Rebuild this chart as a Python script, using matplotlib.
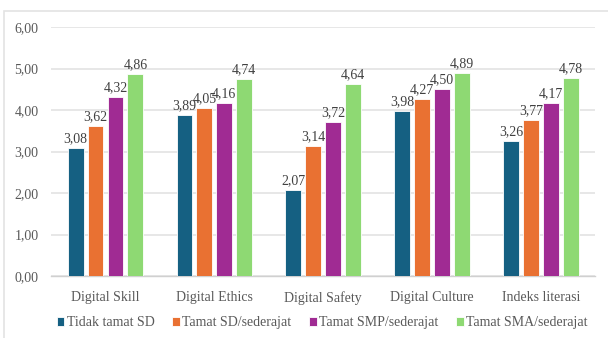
import numpy as np
import matplotlib
matplotlib.use("Agg")
import matplotlib.pyplot as plt
from matplotlib.patches import Rectangle

categories = ["Digital Skill", "Digital Ethics", "Digital Safety", "Digital Culture", "Indeks literasi"]
series_names = ["Tidak tamat SD", "Tamat SD/sederajat", "Tamat SMP/sederajat", "Tamat SMA/sederajat"]
tidak_tamat_sd = [3.08, 3.89, 2.07, 3.98, 3.26]
tamat_sd = [3.62, 4.05, 3.14, 4.27, 3.77]
tamat_smp = [4.32, 4.16, 3.72, 4.50, 4.17]
tamat_sma = [4.86, 4.74, 4.64, 4.89, 4.78]
yticks = [0, 1, 2, 3, 4, 5, 6]

colors = ["#156082", "#E97132", "#A02B93", "#8ED973"]

plt.rcParams["font.family"] = ["Liberation Serif", "DejaVu Serif"]
FONTSIZE = 10


def main():
    fig = plt.figure(figsize=(6.08, 3.38), dpi=100)
    ax = fig.add_axes([0.084, 0.183, 0.895, 0.737])

    # light frame around the chart like the Excel chart area
    fig.patches.append(Rectangle((4 / 608, -0.1), 1.1, 1.1 - 11 / 338,
                                 transform=fig.transFigure, fill=False,
                                 edgecolor="#e3e3e3", linewidth=1.2))

    x = np.arange(len(categories))
    width = 0.145
    step = 0.183
    data = [tidak_tamat_sd, tamat_sd, tamat_smp, tamat_sma]
    for i, (vals, name, c) in enumerate(zip(data, series_names, colors)):
        pos = x + (i - 1.5) * step
        bars = ax.bar(pos, vals, width, color=c, label=name,
                      edgecolor="white", linewidth=0.6, zorder=3)
        for b, v in zip(bars, vals):
            ax.annotate(f"{v:.2f}".replace(".", ","),
                        (b.get_x() + b.get_width() / 2, b.get_height()),
                        xytext=(0, 2), textcoords="offset points",
                        ha="center", va="bottom", fontsize=FONTSIZE,
                        color="#404040", zorder=4)

    ax.set_xlim(-0.5, len(categories) - 0.5)
    ax.set_ylim(0, 6)
    ax.set_yticks(yticks)
    ax.set_yticklabels([f"{t:.2f}".replace(".", ",") for t in yticks],
                       fontsize=FONTSIZE, color="#595959")
    ax.set_xticks(x)
    ax.set_xticklabels(categories, fontsize=FONTSIZE, color="#595959")
    ax.tick_params(axis="x", length=0, pad=11)
    ax.tick_params(axis="y", length=0, pad=9)
    ax.yaxis.grid(True, color="#e3e3e3", linewidth=1.2, zorder=0)
    for s in ["top", "right", "left"]:
        ax.spines[s].set_visible(False)
    ax.spines["bottom"].set_color("#d0d0d0")
    ax.spines["bottom"].set_linewidth(1.0)

    fig.legend(loc="center", bbox_to_anchor=(0.53, 0.045), ncol=4,
               frameon=False, fontsize=FONTSIZE, handlelength=0.55,
               handleheight=0.55, handletextpad=0.2, columnspacing=1.25,
               labelcolor="#595959")

    plt.savefig("out.png", dpi=100)


if __name__ == "__main__":
    main()
